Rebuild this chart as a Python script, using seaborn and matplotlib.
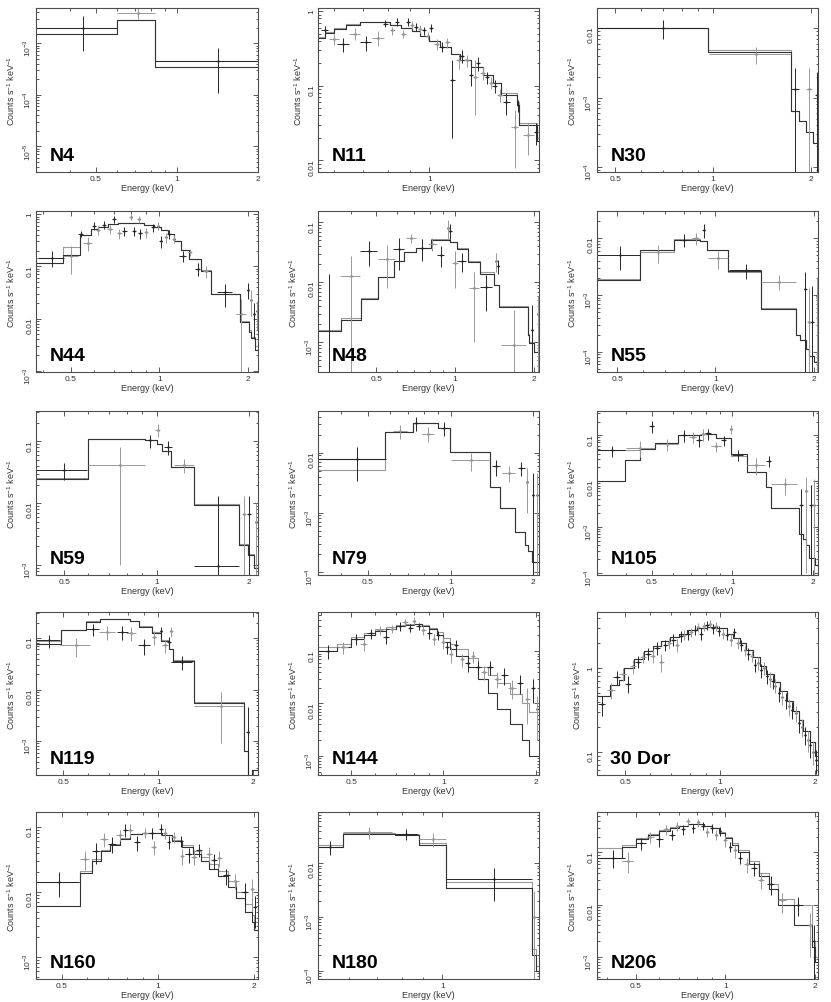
import numpy as np
import matplotlib
matplotlib.use("Agg")
import matplotlib.pyplot as plt
import matplotlib.ticker as mticker
import seaborn as sns

# ---- spectra: model step edges / values (two instruments) + binned data ----
n4_edges = [0.3, 0.6, 0.83, 2.0]
n4_mod1 = [1.5e-3, 2.8e-3, 3.5e-4]
n4_mod2 = [2.0e-3, 2.8e-3, 4.5e-4]
n4_x = [0.45, 0.715, 1.415]
n4_y = [2.0e-3, 3.8e-3, 4.5e-4]
n4_dx = [0.15, 0.115, 0.585]
n4_sig = [1.3e-3, 0.9e-3, 3.4e-4]

n11_edges = [0.55, 0.57, 0.60, 0.64, 0.69, 0.81, 0.86, 0.91, 0.95, 1.0, 1.06,
             1.12, 1.18, 1.25, 1.33, 1.41, 1.47, 1.60, 1.62, 1.78, 1.80]
n11_mod1 = [0.43, 0.51, 0.58, 0.66, 0.71, 0.66, 0.60, 0.54, 0.47, 0.40, 0.33,
            0.27, 0.22, 0.18, 0.14, 0.11, 0.075, 0.055, 0.03, 0.018]
n11_mod2 = [0.45, 0.53, 0.60, 0.67, 0.71, 0.66, 0.60, 0.54, 0.47, 0.40, 0.33,
            0.27, 0.22, 0.18, 0.14, 0.11, 0.08, 0.06, 0.032, 0.02]
n11_x = [0.57, 0.60, 0.63, 0.67, 0.71, 0.76, 0.79, 0.82, 0.84, 0.87, 0.89, 0.91,
         0.93, 0.95, 0.97, 0.99, 1.01, 1.04, 1.07, 1.10, 1.13, 1.17, 1.19, 1.22,
         1.25, 1.28, 1.30, 1.33, 1.36, 1.39, 1.42, 1.46, 1.51, 1.58, 1.61, 1.70, 1.77]
n11_y = [0.55, 0.42, 0.36, 0.50, 0.38, 0.44, 0.68, 0.55, 0.72, 0.49, 0.72, 0.65,
         0.62, 0.58, 0.55, 0.47, 0.60, 0.36, 0.33, 0.38, 0.12, 0.22, 0.25, 0.22,
         0.14, 0.13, 0.20, 0.15, 0.13, 0.11, 0.10, 0.075, 0.06, 0.028, 0.055, 0.022, 0.024]
n11_dx = [0.01, 0.015, 0.02, 0.02, 0.02, 0.025, 0.01, 0.01, 0.01, 0.01, 0.01, 0.01,
          0.01, 0.01, 0.01, 0.01, 0.01, 0.015, 0.015, 0.015, 0.015, 0.015, 0.015, 0.015,
          0.015, 0.015, 0.015, 0.015, 0.015, 0.015, 0.02, 0.02, 0.03, 0.03, 0.01, 0.05, 0.02]
n11_sig = [0.08, 0.07, 0.08, 0.09, 0.09, 0.1, 0.07, 0.07, 0.08, 0.06, 0.08, 0.08,
           0.08, 0.07, 0.07, 0.06, 0.08, 0.06, 0.05, 0.06, 0.1, 0.05, 0.05, 0.04,
           0.04, 0.09, 0.04, 0.03, 0.025, 0.02, 0.02, 0.015, 0.02, 0.02, 0.01, 0.01, 0.008]

n30_edges = [0.44, 0.965, 1.73, 1.84, 1.93, 2.02, 2.1]
n30_mod1 = [0.0102, 4.6e-3, 6.4e-4, 4.6e-4, 3.2e-4, 2.2e-4]
n30_mod2 = [0.0102, 4.8e-3, 6.4e-4, 4.6e-4, 3.2e-4, 2.2e-4]
n30_x = [0.70, 1.35, 1.78, 1.97, 2.08]
n30_y = [0.0100, 4.2e-3, 1.35e-3, 1.35e-3, 1.1e-3]
n30_dx = [0.26, 0.38, 0.05, 0.045, 0.02]
n30_sig = [3e-3, 1.2e-3, 1.3e-3, 1.3e-3, 1.2e-3]

n44_edges = [0.38, 0.47, 0.537, 0.585, 0.616, 0.667, 0.721, 0.822, 0.889, 0.961, 1.01,
             1.07, 1.12, 1.185, 1.266, 1.387, 1.5, 1.89, 2.02, 2.06, 2.12, 2.17]
n44_mod1 = [0.117, 0.168, 0.40, 0.52, 0.58, 0.65, 0.69, 0.69, 0.63, 0.58, 0.50,
            0.42, 0.30, 0.21, 0.14, 0.08, 0.029, 0.0085, 0.0055, 0.0042, 0.0025]
n44_mod2 = [0.148, 0.235, 0.40, 0.52, 0.58, 0.65, 0.69, 0.69, 0.63, 0.58, 0.50,
            0.42, 0.30, 0.21, 0.14, 0.085, 0.03, 0.009, 0.006, 0.0045, 0.003]
n44_x = [0.43, 0.50, 0.54, 0.57, 0.60, 0.62, 0.65, 0.68, 0.70, 0.73, 0.76, 0.80,
         0.82, 0.85, 0.86, 0.90, 0.95, 0.99, 1.01, 1.05, 1.08, 1.12, 1.20, 1.27,
         1.35, 1.44, 1.67, 1.90, 2.00, 2.05, 2.10, 2.16]
n44_y = [0.148, 0.16, 0.42, 0.28, 0.60, 0.50, 0.63, 0.52, 0.80, 0.43, 0.48, 0.89,
         0.48, 0.80, 0.43, 0.45, 0.56, 0.60, 0.31, 0.36, 0.42, 0.34, 0.16, 0.19,
         0.09, 0.08, 0.032, 0.012, 0.036, 0.023, 0.012, 0.014]
n44_dx = [0.045, 0.03, 0.01, 0.02, 0.01, 0.01, 0.01, 0.015, 0.01, 0.015, 0.015, 0.01,
          0.015, 0.01, 0.015, 0.015, 0.015, 0.01, 0.015, 0.015, 0.015, 0.015, 0.03, 0.02,
          0.03, 0.03, 0.1, 0.08, 0.015, 0.015, 0.015, 0.01]
n44_sig = [0.05, 0.09, 0.06, 0.08, 0.1, 0.1, 0.1, 0.1, 0.12, 0.1, 0.1, 0.12,
           0.1, 0.12, 0.1, 0.1, 0.1, 0.1, 0.08, 0.08, 0.08, 0.06, 0.04, 0.03,
           0.025, 0.02, 0.015, 0.012, 0.012, 0.012, 0.008, 0.008]

n48_edges = [0.30, 0.368, 0.438, 0.507, 0.587, 0.64, 0.71, 0.81, 0.96, 1.02, 1.12,
             1.25, 1.41, 1.47, 1.89, 1.92, 2.0, 2.09]
n48_mod1 = [1.55e-3, 2.4e-3, 5.3e-3, 0.0122, 0.023, 0.032, 0.037, 0.051, 0.047,
            0.036, 0.022, 0.014, 0.009, 3.9e-3, 1.3e-3, 9.6e-4, 6.9e-4]
n48_mod2 = [1.6e-3, 2.5e-3, 5.5e-3, 0.0125, 0.023, 0.032, 0.038, 0.052, 0.048,
            0.037, 0.023, 0.015, 0.009, 4.0e-3, 1.4e-3, 1.0e-3, 7.0e-4]
n48_x = [0.33, 0.40, 0.47, 0.55, 0.61, 0.68, 0.75, 0.82, 0.88, 0.94, 0.96, 1.00,
         1.06, 1.18, 1.31, 1.43, 1.46, 1.68, 1.97, 2.07]
n48_y = [2.0e-4, 0.0128, 0.034, 0.025, 0.036, 0.055, 0.038, 0.044, 0.029, 0.080, 0.073,
         0.021, 0.023, 0.008, 0.0083, 0.023, 0.019, 9.0e-4, 1.6e-3, 3.0e-3]
n48_dx = [0.035, 0.035, 0.035, 0.04, 0.03, 0.03, 0.03, 0.03, 0.03, 0.01, 0.01, 0.03,
          0.04, 0.05, 0.07, 0.01, 0.01, 0.18, 0.02, 0.01]
n48_sig = [0.0135, 0.0152, 0.015, 0.017, 0.02, 0.01, 0.015, 0.01, 0.011, 0.028, 0.02,
           0.013, 0.008, 0.007, 0.005, 0.008, 0.005, 2.6e-3, 2.6e-3, 3.0e-3]

n55_edges = [0.434, 0.586, 0.746, 0.90, 0.94, 1.094, 1.38, 1.76, 1.82, 1.89, 1.94, 2.0, 2.06]
n55_mod1 = [1.8e-3, 6.1e-3, 9.4e-3, 8.8e-3, 6.3e-3, 2.6e-3, 5.7e-4, 1.95e-4, 1.6e-4,
            1.1e-4, 8.5e-5, 6.5e-5]
n55_mod2 = [1.9e-3, 5.7e-3, 9.6e-3, 8.8e-3, 6.3e-3, 2.5e-3, 5.8e-4, 2.0e-4, 1.6e-4,
            1.1e-4, 8.5e-5, 6.5e-5]
n55_x = [0.51, 0.666, 0.80, 0.87, 0.92, 1.02, 1.24, 1.57, 1.88, 1.93, 1.98, 2.04]
n55_y = [5.0e-3, 5.6e-3, 9.4e-3, 0.010, 0.014, 4.4e-3, 2.7e-3, 1.7e-3, 1.27e-3, 3.3e-4,
         3.3e-4, 9.6e-4]
n55_dx = [0.076, 0.08, 0.02, 0.02, 0.01, 0.07, 0.14, 0.19, 0.02, 0.02, 0.02, 0.015]
n55_sig = [2.2e-3, 2.0e-3, 2.5e-3, 2.5e-3, 4e-3, 1.5e-3, 8e-4, 5e-4, 1.3e-3, 1.0e-3,
           1.1e-3, 1.1e-3]

n59_edges = [0.405, 0.596, 0.917, 1.0, 1.04, 1.115, 1.32, 1.86, 1.98, 2.07, 2.14]
n59_mod1 = [0.0247, 0.108, 0.105, 0.09, 0.069, 0.038, 9.5e-3, 2.1e-3, 1.45e-3, 9e-4]
n59_mod2 = [0.026, 0.11, 0.107, 0.09, 0.07, 0.039, 9.8e-3, 2.2e-3, 1.5e-3, 9e-4]
n59_x = [0.50, 0.76, 0.95, 1.01, 1.09, 1.23, 1.59, 1.93, 2.00, 2.11]
n59_y = [0.0344, 0.041, 0.104, 0.154, 0.081, 0.041, 9.8e-4, 6.6e-3, 6.6e-3, 5e-3]
n59_dx = [0.095, 0.16, 0.02, 0.02, 0.03, 0.09, 0.27, 0.03, 0.03, 0.02]
n59_sig = [0.011, 0.04, 0.025, 0.035, 0.02, 0.01, 0.012, 6.5e-3, 6.5e-3, 5e-3]

n79_edges = [0.329, 0.579, 0.73, 0.748, 0.898, 0.997, 1.39, 1.52, 1.72, 1.87, 1.92, 1.98, 2.1]
n79_mod1 = [8e-3, 0.022, 0.031, 0.031, 0.026, 0.0104, 2.7e-3, 1.18e-3, 4.8e-4, 2.9e-4,
            2.3e-4, 1.5e-4]
n79_mod2 = [5.1e-3, 0.022, 0.031, 0.032, 0.026, 0.0104, 2.7e-3, 1.18e-3, 4.8e-4, 2.9e-4,
            2.3e-4, 1.5e-4]
n79_x = [0.455, 0.655, 0.75, 0.83, 0.95, 1.19, 1.47, 1.63, 1.81, 1.90, 2.00, 2.06]
n79_y = [8e-3, 0.0227, 0.031, 0.021, 0.026, 7.5e-3, 5.9e-3, 4.6e-3, 5.6e-3, 3.3e-3, 2.0e-3, 2.0e-3]
n79_dx = [0.125, 0.04, 0.01, 0.04, 0.03, 0.19, 0.05, 0.09, 0.05, 0.01, 0.02, 0.02]
n79_sig = [4.6e-3, 6e-3, 8e-3, 6e-3, 7e-3, 2.5e-3, 1.8e-3, 1.3e-3, 1.5e-3, 2.3e-3, 2.6e-3, 2.5e-3]

n105_edges = [0.312, 0.398, 0.452, 0.514, 0.628, 0.763, 0.87, 0.99, 1.13, 1.34, 1.4,
              1.78, 1.83, 1.89, 1.94, 2.03, 2.09]
n105_mod1 = [0.0101, 0.0285, 0.0495, 0.069, 0.1, 0.108, 0.089, 0.04, 0.016, 0.0075,
             2.6e-3, 6.9e-4, 5.5e-4, 4e-4, 2.1e-4, 1.5e-4]
n105_mod2 = [0.048, 0.048, 0.052, 0.069, 0.1, 0.108, 0.089, 0.036, 0.016, 0.0075,
             2.6e-3, 7e-4, 5.5e-4, 4e-4, 2.1e-4, 1.5e-4]
n105_x = [0.355, 0.45, 0.50, 0.57, 0.66, 0.71, 0.75, 0.78, 0.81, 0.87, 0.93, 0.99,
          1.05, 1.23, 1.37, 1.57, 1.81, 1.89, 1.96, 2.02]
n105_y = [0.047, 0.054, 0.16, 0.064, 0.10, 0.092, 0.078, 0.105, 0.11, 0.058, 0.078, 0.135,
          0.037, 0.0225, 0.028, 8.5e-3, 3.1e-3, 6.1e-3, 3.1e-3, 3.1e-3]
n105_dx = [0.043, 0.05, 0.01, 0.057, 0.02, 0.02, 0.02, 0.02, 0.02, 0.04, 0.02, 0.01,
           0.05, 0.1, 0.03, 0.17, 0.03, 0.02, 0.02, 0.02]
n105_sig = [0.013, 0.02, 0.05, 0.018, 0.03, 0.025, 0.022, 0.03, 0.03, 0.015, 0.02, 0.03,
            0.01, 0.009, 0.008, 3.5e-3, 3.5e-3, 6.0e-3, 5.0e-3, 8.0e-3]

n119_edges = [0.41, 0.493, 0.59, 0.654, 0.816, 0.867, 0.957, 1.02, 1.08, 1.11, 1.3,
              1.87, 1.92, 1.98, 2.07]
n119_mod1 = [0.075, 0.145, 0.205, 0.23, 0.21, 0.164, 0.125, 0.086, 0.06, 0.0366,
             5.5e-3, 6.4e-4, 2.0e-4, 2.8e-4]
n119_mod2 = [0.086, 0.145, 0.21, 0.23, 0.21, 0.17, 0.13, 0.09, 0.062, 0.037,
             5.8e-3, 6.4e-4, 2.0e-4, 2.8e-4]
n119_x = [0.45, 0.55, 0.62, 0.69, 0.77, 0.82, 0.90, 0.97, 1.02, 1.05, 1.08, 1.10, 1.19, 1.58, 1.92]
n119_y = [0.09, 0.072, 0.148, 0.13, 0.13, 0.127, 0.072, 0.104, 0.137, 0.072, 0.084, 0.135,
          0.034, 4.9e-3, 1.5e-3]
n119_dx = [0.04, 0.06, 0.03, 0.04, 0.03, 0.03, 0.04, 0.015, 0.01, 0.02, 0.015, 0.01, 0.09, 0.28, 0.02]
n119_sig = [0.025, 0.03, 0.04, 0.04, 0.04, 0.04, 0.025, 0.03, 0.03, 0.02, 0.02, 0.03,
            0.01, 4e-3, 3e-3]

n144_edges = [0.39, 0.45, 0.5, 0.55, 0.6, 0.65, 0.7, 0.75, 0.8, 0.85, 0.9, 0.95, 1.0,
              1.05, 1.1, 1.2, 1.3, 1.4, 1.5, 1.65, 1.8, 1.9, 2.05]
n144_mod1 = [0.1, 0.12, 0.17, 0.2, 0.24, 0.27, 0.3, 0.32, 0.33, 0.3, 0.26, 0.2, 0.15,
             0.11, 0.08, 0.05, 0.03, 0.016, 0.008, 0.004, 0.002, 0.001]
n144_mod2 = [0.12, 0.14, 0.19, 0.22, 0.26, 0.29, 0.31, 0.33, 0.33, 0.31, 0.28, 0.23, 0.18,
             0.14, 0.11, 0.075, 0.05, 0.035, 0.025, 0.015, 0.01, 0.007]
n144_x = [0.42, 0.47, 0.52, 0.55, 0.58, 0.62, 0.65, 0.68, 0.72, 0.75, 0.78, 0.80, 0.83,
          0.86, 0.90, 0.93, 0.96, 1.00, 1.03, 1.06, 1.10, 1.15, 1.20, 1.25, 1.30, 1.36,
          1.42, 1.50, 1.58, 1.68, 1.78, 1.88, 1.96, 2.02]
n144_y = [0.10, 0.12, 0.17, 0.14, 0.22, 0.25, 0.19, 0.27, 0.30, 0.36, 0.28, 0.38, 0.30,
          0.25, 0.22, 0.17, 0.20, 0.15, 0.12, 0.09, 0.13, 0.07, 0.06, 0.08, 0.05, 0.04,
          0.05, 0.03, 0.035, 0.02, 0.025, 0.012, 0.02, 0.008]
n144_dx = [0.03, 0.02, 0.02, 0.015, 0.015, 0.015, 0.015, 0.015, 0.015, 0.015, 0.015, 0.01,
           0.015, 0.015, 0.015, 0.015, 0.015, 0.015, 0.015, 0.015, 0.015, 0.02, 0.02, 0.02,
           0.03, 0.03, 0.03, 0.04, 0.04, 0.05, 0.04, 0.04, 0.03, 0.02]
n144_sig = [0.03, 0.03, 0.04, 0.04, 0.05, 0.05, 0.05, 0.05, 0.06, 0.06, 0.05, 0.06, 0.05,
            0.05, 0.05, 0.04, 0.04, 0.04, 0.03, 0.03, 0.03, 0.02, 0.02, 0.02, 0.015, 0.012,
            0.015, 0.01, 0.012, 0.008, 0.01, 0.008, 0.01, 0.006]

dor_edges = [0.406, 0.446, 0.476, 0.494, 0.531, 0.571, 0.614, 0.65, 0.694, 0.74, 0.784,
             0.843, 0.907, 0.976, 1.05, 1.1, 1.157, 1.21, 1.275, 1.34, 1.405, 1.48, 1.55,
             1.63, 1.71, 1.78, 1.84, 1.93, 2.0, 2.05]
dor_mod1 = [0.46, 0.63, 0.72, 1.0, 1.3, 1.6, 1.85, 2.1, 2.35, 2.6, 2.85, 3.05, 3.15, 3.0,
            2.6, 2.3, 2.0, 1.65, 1.35, 1.07, 0.86, 0.68, 0.53, 0.41, 0.31, 0.24, 0.18, 0.13, 0.09]
dor_mod2 = [0.46, 0.63, 0.72, 1.0, 1.3, 1.6, 1.85, 2.1, 2.35, 2.6, 2.85, 3.05, 3.15, 3.0,
            2.6, 2.3, 2.0, 1.65, 1.35, 1.07, 0.86, 0.68, 0.53, 0.41, 0.31, 0.24, 0.18, 0.13, 0.09]
dor_x = [0.42, 0.45, 0.47, 0.49, 0.51, 0.53, 0.55, 0.57, 0.59, 0.61, 0.63, 0.65, 0.67,
         0.69, 0.71, 0.73, 0.75, 0.77, 0.79, 0.81, 0.83, 0.85, 0.87, 0.89, 0.91, 0.93,
         0.95, 0.97, 0.99, 1.02, 1.05, 1.08, 1.11, 1.14, 1.17, 1.2, 1.23, 1.26, 1.29,
         1.32, 1.35, 1.38, 1.41, 1.44, 1.47, 1.5, 1.54, 1.58, 1.62, 1.66, 1.7, 1.74,
         1.78, 1.82, 1.86, 1.9, 1.94, 1.98, 2.02]
dor_y = [0.37, 0.55, 0.78, 0.85, 0.65, 1.05, 1.2, 1.35, 1.5, 1.4, 1.75, 1.2, 1.9, 2.0,
         2.2, 1.9, 2.4, 2.5, 2.55, 2.7, 2.9, 3.1, 2.6, 3.2, 3.3, 3.4, 3.0, 3.2, 2.8, 2.6,
         2.5, 2.2, 2.7, 2.0, 1.9, 1.65, 1.5, 1.4, 1.1, 1.15, 0.95, 1.0, 0.8, 0.75, 0.7,
         0.62, 0.5, 0.45, 0.42, 0.35, 0.32, 0.29, 0.22, 0.2, 0.16, 0.14, 0.12, 0.1, 0.08]
dor_dx = 0.012
dor_sig = [0.1, 0.12, 0.15, 0.15, 0.15, 0.2, 0.2, 0.2, 0.25, 0.25, 0.3, 0.3, 0.3, 0.3,
           0.35, 0.35, 0.35, 0.35, 0.35, 0.35, 0.4, 0.4, 0.4, 0.4, 0.4, 0.4, 0.4, 0.4,
           0.4, 0.35, 0.35, 0.35, 0.35, 0.3, 0.3, 0.25, 0.25, 0.22, 0.2, 0.2, 0.18, 0.18,
           0.15, 0.15, 0.13, 0.12, 0.1, 0.09, 0.09, 0.08, 0.07, 0.06, 0.05, 0.05, 0.04,
           0.04, 0.035, 0.03, 0.025]

n160_edges = [0.415, 0.569, 0.62, 0.663, 0.708, 0.762, 0.82, 0.892, 0.96, 1.03, 1.11,
              1.19, 1.285, 1.366, 1.45, 1.54, 1.66, 1.76, 1.87, 1.97, 2.0, 2.06]
n160_mod1 = [6.2e-3, 0.0195, 0.03, 0.043, 0.053, 0.066, 0.079, 0.082, 0.08, 0.074, 0.061,
             0.049, 0.039, 0.03, 0.023, 0.0175, 0.012, 8e-3, 5e-3, 3.5e-3, 2.6e-3]
n160_mod2 = [0.0143, 0.021, 0.032, 0.045, 0.055, 0.067, 0.079, 0.082, 0.08, 0.075, 0.063,
             0.052, 0.042, 0.034, 0.027, 0.021, 0.015, 0.01, 6.5e-3, 4.5e-3, 3.5e-3]
n160_x = [0.49, 0.59, 0.64, 0.68, 0.72, 0.76, 0.79, 0.82, 0.86, 0.91, 0.96, 0.97, 1.02,
          1.05, 1.08, 1.12, 1.18, 1.19, 1.25, 1.30, 1.35, 1.45, 1.50, 1.56, 1.64, 1.75,
          1.87, 1.97, 2.01]
n160_y = [0.0143, 0.032, 0.042, 0.065, 0.055, 0.076, 0.09, 0.09, 0.058, 0.082, 0.08, 0.049,
          0.092, 0.08, 0.059, 0.07, 0.061, 0.036, 0.038, 0.035, 0.045, 0.039, 0.031, 0.033,
          0.018, 0.015, 0.010, 0.011, 5.8e-3]
n160_dx = [0.075, 0.02, 0.02, 0.02, 0.02, 0.02, 0.015, 0.015, 0.02, 0.02, 0.015, 0.015,
           0.015, 0.015, 0.015, 0.02, 0.02, 0.02, 0.03, 0.03, 0.03, 0.03, 0.03, 0.03, 0.04,
           0.05, 0.05, 0.03, 0.02]
n160_sig = [6e-3, 0.01, 0.015, 0.015, 0.015, 0.015, 0.02, 0.02, 0.015, 0.015, 0.015, 0.012,
            0.018, 0.015, 0.013, 0.013, 0.012, 0.01, 0.01, 0.009, 0.01, 0.01, 0.008, 0.009,
            0.005, 0.004, 0.004, 0.005, 3e-3]

n180_edges = [0.505, 0.58, 0.77, 0.88, 1.02, 1.64, 1.67, 1.7]
n180_mod1 = [0.02, 0.035, 0.033, 0.022, 3.5e-3, 2e-4, 1e-4]
n180_mod2 = [0.022, 0.037, 0.035, 0.024, 4.5e-3, 2.5e-4, 1.2e-4]
n180_x = [0.54, 0.67, 0.82, 0.95, 1.33, 1.655]
n180_y = [0.02, 0.038, 0.035, 0.028, 5e-3, 1e-3]
n180_dx = [0.035, 0.09, 0.05, 0.07, 0.31, 0.015]
n180_sig = [0.006, 0.01, 0.008, 0.008, 3e-3, 2e-3]

n206_edges = [0.37, 0.45, 0.5, 0.55, 0.6, 0.65, 0.7, 0.75, 0.8, 0.85, 0.9, 0.95, 1.0,
              1.05, 1.1, 1.2, 1.3, 1.4, 1.5, 1.7, 1.95, 2.0, 2.05]
n206_mod1 = [0.08, 0.13, 0.18, 0.22, 0.26, 0.3, 0.33, 0.35, 0.35, 0.33, 0.29, 0.24, 0.19,
             0.14, 0.1, 0.06, 0.035, 0.02, 0.01, 4e-3, 1.5e-3, 8e-4]
n206_mod2 = [0.12, 0.14, 0.19, 0.23, 0.27, 0.31, 0.33, 0.35, 0.35, 0.33, 0.3, 0.25, 0.2,
             0.15, 0.11, 0.07, 0.04, 0.025, 0.013, 0.01, 2e-3, 1e-3]
n206_x = [0.42, 0.47, 0.52, 0.56, 0.60, 0.63, 0.66, 0.69, 0.72, 0.75, 0.78, 0.81, 0.84,
          0.87, 0.90, 0.93, 0.96, 1.00, 1.04, 1.08, 1.12, 1.18, 1.25, 1.32, 1.42, 1.55,
          1.75, 1.92, 1.98]
n206_y = [0.08, 0.07, 0.15, 0.2, 0.18, 0.28, 0.22, 0.32, 0.28, 0.4, 0.3, 0.38, 0.33, 0.25,
          0.3, 0.22, 0.26, 0.17, 0.13, 0.11, 0.08, 0.06, 0.05, 0.03, 0.025, 0.012, 0.01,
          4e-3, 2e-3]
n206_dx = [0.04, 0.02, 0.02, 0.015, 0.015, 0.015, 0.015, 0.01, 0.01, 0.01, 0.01, 0.01, 0.01,
           0.01, 0.01, 0.01, 0.01, 0.015, 0.015, 0.015, 0.02, 0.02, 0.03, 0.03, 0.04, 0.05,
           0.08, 0.03, 0.02]
n206_sig = [0.03, 0.03, 0.04, 0.05, 0.05, 0.06, 0.05, 0.06, 0.06, 0.07, 0.06, 0.07, 0.06,
            0.05, 0.06, 0.05, 0.05, 0.04, 0.03, 0.03, 0.02, 0.02, 0.015, 0.01, 0.01, 0.005,
            0.004, 3e-3, 2e-3]

names = ["N4", "N11", "N30", "N44", "N48", "N55", "N59", "N79", "N105",
         "N119", "N144", "30 Dor", "N160", "N180", "N206"]

spectra = [
    (n4_edges, n4_mod1, n4_mod2, n4_x, n4_y, n4_dx, n4_sig),
    (n11_edges, n11_mod1, n11_mod2, n11_x, n11_y, n11_dx, n11_sig),
    (n30_edges, n30_mod1, n30_mod2, n30_x, n30_y, n30_dx, n30_sig),
    (n44_edges, n44_mod1, n44_mod2, n44_x, n44_y, n44_dx, n44_sig),
    (n48_edges, n48_mod1, n48_mod2, n48_x, n48_y, n48_dx, n48_sig),
    (n55_edges, n55_mod1, n55_mod2, n55_x, n55_y, n55_dx, n55_sig),
    (n59_edges, n59_mod1, n59_mod2, n59_x, n59_y, n59_dx, n59_sig),
    (n79_edges, n79_mod1, n79_mod2, n79_x, n79_y, n79_dx, n79_sig),
    (n105_edges, n105_mod1, n105_mod2, n105_x, n105_y, n105_dx, n105_sig),
    (n119_edges, n119_mod1, n119_mod2, n119_x, n119_y, n119_dx, n119_sig),
    (n144_edges, n144_mod1, n144_mod2, n144_x, n144_y, n144_dx, n144_sig),
    (dor_edges, dor_mod1, dor_mod2, dor_x, dor_y, dor_dx, dor_sig),
    (n160_edges, n160_mod1, n160_mod2, n160_x, n160_y, n160_dx, n160_sig),
    (n180_edges, n180_mod1, n180_mod2, n180_x, n180_y, n180_dx, n180_sig),
    (n206_edges, n206_mod1, n206_mod2, n206_x, n206_y, n206_dx, n206_sig),
]

# axis ranges
xlims = [(0.3, 2.0), (0.55, 1.8), (0.44, 2.1), (0.38, 2.17), (0.30, 2.09),
         (0.434, 2.06), (0.405, 2.14), (0.329, 2.1), (0.312, 2.09), (0.41, 2.07),
         (0.39, 2.05), (0.406, 2.05), (0.415, 2.06), (0.505, 1.7), (0.37, 2.05)]
ylims = [(3.2e-6, 4.8e-3), (0.007, 1.1), (8.5e-5, 0.0195), (9.5e-4, 1.15), (3.2e-4, 0.155),
         (4.4e-5, 0.03), (6.9e-4, 0.31), (9e-5, 0.05), (9e-5, 0.34), (2.2e-4, 0.32),
         (4.3e-4, 0.56), (0.053, 4.7), (4.6e-4, 0.17), (7e-5, 0.09), (3.7e-4, 0.6)]

sns.set_theme(style="ticks")
plt.rcParams["font.family"] = ["Liberation Sans", "DejaVu Sans"]
plt.rcParams["mathtext.fontset"] = "custom"
plt.rcParams["mathtext.rm"] = "Liberation Sans"

W, H = 831, 1003
fig = plt.figure(figsize=(W / 100, H / 100), dpi=100)

col_left = [36, 318, 597]
col_width = [222, 221, 221]
row_top = [9, 212, 412, 613, 813]
row_bot = [173, 373, 576, 776, 980]


def ytick_fmt(v, pos):
    e = int(round(np.log10(v)))
    if e >= 0:
        return "%d" % round(v)
    if e >= -2:
        return "%g" % v
    return r"$10^{%d}$" % e


for k, name in enumerate(names):
    r, c = divmod(k, 3)
    l, w = col_left[c], col_width[c]
    t, b = row_top[r], row_bot[r]
    ax = fig.add_axes([l / W, 1 - b / H, w / W, (b - t) / H])
    ax.set_xscale("log")
    ax.set_yscale("log")

    edges, m1, m2, x, y, dx, sig = spectra[k]
    x = np.asarray(x, float)
    y = np.asarray(y, float)
    sig = np.asarray(sig, float)
    dx = np.broadcast_to(np.asarray(dx, float), x.shape)
    y0, y1 = ylims[k]

    # model steps (grey instrument underneath, black on top)
    sns.lineplot(x=edges, y=list(m2) + [m2[-1]], drawstyle="steps-post", color="0.6",
                 lw=0.8, estimator=None, sort=False, ax=ax)
    sns.lineplot(x=edges, y=list(m1) + [m1[-1]], drawstyle="steps-post", color="0.2",
                 lw=0.8, estimator=None, sort=False, ax=ax)

    lo = np.where(y - sig > 0, y - sig, y0 * 1e-3)
    hi = y + sig
    for i in range(len(x)):
        col = "0.15" if i % 2 == 0 else "0.6"
        ax.errorbar([x[i]], [y[i]], xerr=[[dx[i]], [dx[i]]],
                    yerr=[[y[i] - lo[i]], [hi[i] - y[i]]],
                    fmt="none", ecolor=col, elinewidth=0.7, capsize=0)
    sns.scatterplot(x=x, y=y, s=3, color="k", linewidth=0, ax=ax)

    ax.set_xlim(*xlims[k])
    ax.set_ylim(y0, y1)

    ax.xaxis.set_major_locator(mticker.FixedLocator([0.5, 1, 2]))
    ax.xaxis.set_major_formatter(mticker.FuncFormatter(lambda v, p: "%g" % v))
    ax.xaxis.set_minor_locator(mticker.LogLocator(base=10, subs=np.arange(1, 10), numticks=20))
    ax.xaxis.set_minor_formatter(mticker.NullFormatter())
    ax.yaxis.set_major_locator(mticker.LogLocator(base=10, numticks=12))
    ax.yaxis.set_major_formatter(mticker.FuncFormatter(ytick_fmt))
    ax.yaxis.set_minor_locator(mticker.LogLocator(base=10, subs=np.arange(2, 10), numticks=12))
    ax.yaxis.set_minor_formatter(mticker.NullFormatter())

    ax.tick_params(which="both", direction="in", top=True, right=True, width=0.6,
                   colors="0.25", labelcolor="0.2", labelsize=6, pad=2)
    ax.tick_params(which="major", length=3.5)
    ax.tick_params(which="minor", length=1.8)
    ax.tick_params(axis="y", labelrotation=90)
    for sp in ax.spines.values():
        sp.set_linewidth(0.8)
        sp.set_color("0.3")

    ax.set_xlabel("Energy (keV)", fontsize=6.5, color="0.2", labelpad=1)
    ax.set_ylabel("Counts s$^{-1}$ keV$^{-1}$", fontsize=6.5, color="0.2", labelpad=3)
    ax.text(0.06, 0.05, name, transform=ax.transAxes, fontsize=14,
            fontweight="bold", color="black", ha="left", va="bottom")

fig.savefig("out.png", dpi=100)
